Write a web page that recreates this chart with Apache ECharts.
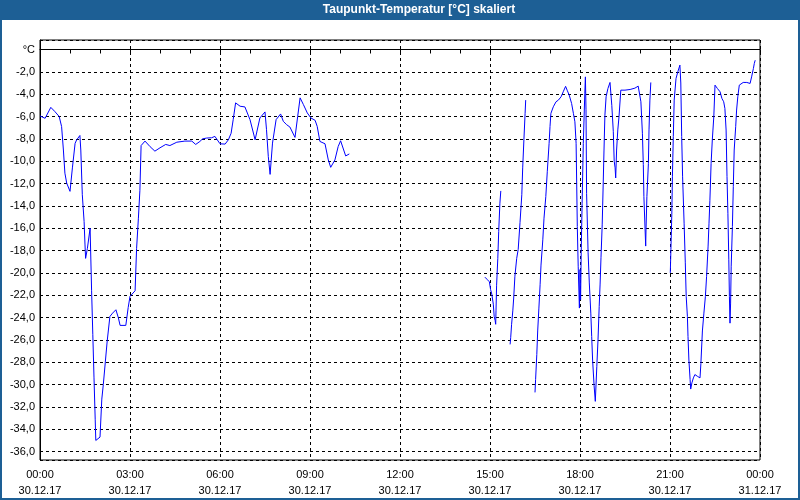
<!DOCTYPE html>
<html>
<head>
<meta charset="utf-8">
<script src="https://cdn.jsdelivr.net/npm/echarts@6/dist/echarts.min.js"></script>
<style>html,body{margin:0;padding:0;background:#fff}#c{width:800px;height:500px}</style>
</head>
<body>
<div id="c"></div>
<script>
// Title and tick labels
const chartTitle = 'Taupunkt-Temperatur [°C] skaliert';
const xTickLabels = ['00:00\n30.12.17','03:00\n30.12.17','06:00\n30.12.17','09:00\n30.12.17','12:00\n30.12.17','15:00\n30.12.17','18:00\n30.12.17','21:00\n30.12.17','00:00\n31.12.17'];
const yUnitLabel = '°C';

// Time in hours since 30.12.17 00:00
const hours = [
 0.00,0.17,0.36,0.50,0.64,0.72,0.78,0.83,0.89,1.00,1.08,1.17,1.22,1.33,1.36,1.41,1.47,1.50,1.52,1.58,
 1.67,1.72,1.76,1.80,1.84,1.86,2.00,2.06,2.11,2.18,2.24,2.33,2.42,2.53,2.61,2.67,2.86,2.94,3.00,3.17,
 3.22,3.28,3.33,3.37,3.50,3.67,3.83,4.00,4.19,4.33,4.56,4.83,5.06,5.19,5.33,5.42,5.55,5.72,5.83,5.89,
 6.00,6.06,6.17,6.28,6.37,6.44,6.52,6.67,6.83,7.00,7.17,7.33,7.50,7.55,7.61,7.67,7.75,7.87,8.02,8.11,
 8.22,8.33,8.50,8.59,8.67,8.78,8.91,9.03,9.17,9.24,9.33,9.50,9.61,9.69,9.83,9.94,10.02,10.19,10.31,
 12.00,
 14.83,14.91,14.98,15.02,15.06,15.11,15.14,15.17,15.19,15.20,15.22,15.26,15.29,15.33,15.36,
 15.50,
 15.67,15.69,15.72,15.76,15.79,15.83,15.89,15.94,16.00,16.06,16.09,16.13,16.17,16.19,
 16.35,
 16.50,16.52,16.56,16.59,16.63,16.67,16.70,16.76,16.80,16.86,16.91,16.97,17.00,17.03,17.11,17.20,17.28,17.37,17.44,17.52,
 17.58,17.64,17.72,17.78,17.83,17.87,17.89,17.91,17.94,17.98,18.00,18.02,18.04,18.07,18.11,18.16,18.18,18.20,18.22,18.27,
 18.31,18.36,18.39,18.42,18.47,18.51,18.56,18.60,18.64,18.67,18.70,18.74,18.77,18.80,18.83,18.87,18.93,19.00,19.06,19.11,
 19.14,19.17,19.19,19.22,19.26,19.30,19.36,19.50,19.67,19.83,19.94,20.00,20.03,20.08,20.11,20.13,20.17,20.19,20.20,20.23,
 20.28,20.30,20.33,20.36,
 20.70,
 21.01,21.03,21.06,21.08,21.11,21.14,21.20,21.26,21.33,21.36,21.39,21.42,21.47,21.51,21.54,21.58,21.60,21.63,21.67,21.69,
 21.73,21.78,21.83,21.91,22.00,22.03,22.08,22.13,22.18,22.22,22.27,22.30,22.33,22.37,22.41,22.46,22.50,22.58,22.67,22.73,
 22.79,22.83,22.87,22.90,22.93,22.96,22.98,23.00,23.02,23.04,23.08,23.11,23.14,23.19,23.22,23.26,23.31,23.36,23.44,23.56,
 23.67,23.72,23.78,23.81,23.84
];

// Dew point temperature in °C (null = no data)
const dewPoint = [
 -5.95,-6.16,-5.18,-5.57,-6.00,-6.90,-9.00,-11.07,-11.96,-12.70,-10.60,-8.40,-8.10,-7.70,-9.00,-13.00,-15.40,-17.50,-18.70,-17.80,
 -16.00,-21.60,-25.50,-29.40,-33.10,-35.00,-34.70,-31.30,-30.00,-27.90,-26.10,-23.90,-23.60,-23.30,-24.00,-24.70,-24.70,-23.10,-22.10,-21.60,
 -17.80,-15.10,-12.60,-8.60,-8.20,-8.70,-9.10,-8.80,-8.50,-8.60,-8.30,-8.20,-8.20,-8.50,-8.23,-8.00,-7.93,-7.90,-7.78,-7.87,
 -8.44,-8.50,-8.47,-8.08,-7.50,-6.28,-4.78,-5.08,-5.14,-6.28,-8.08,-6.13,-5.59,-7.18,-9.59,-11.18,-8.38,-6.28,-5.77,-6.43,
 -6.73,-6.94,-7.87,-5.98,-4.33,-4.93,-5.68,-6.13,-6.34,-6.88,-8.23,-8.44,-9.89,-10.55,-9.89,-8.68,-8.17,-9.53,-9.35,
 null,
 -20.38,-20.60,-20.80,-21.50,-21.90,-22.80,-23.90,-24.25,-24.60,-23.40,-21.10,-18.70,-16.30,-13.76,-12.66,
 null,
 -26.40,-25.80,-24.60,-23.40,-22.25,-20.30,-18.70,-17.90,-15.50,-13.00,-10.60,-8.10,-5.72,-4.53,
 null,
 -30.70,-29.55,-27.30,-25.20,-23.15,-21.06,-19.30,-17.04,-15.10,-13.17,-10.90,-8.40,-6.90,-5.72,-5.13,-4.68,-4.53,-4.23,-3.79,-3.30,
 -3.70,-4.08,-4.83,-5.72,-6.47,-8.40,-12.00,-15.85,-19.40,-23.15,-19.70,-22.40,-18.20,-13.80,-8.40,-3.93,-2.45,-5.40,-12.90,-18.20,
 -20.90,-23.60,-25.70,-27.80,-30.10,-31.50,-28.40,-26.00,-23.00,-21.00,-18.60,-15.70,-12.40,-9.00,-5.90,-4.23,-3.50,-2.95,-5.00,-7.36,
 -10.00,-10.60,-11.50,-9.00,-7.20,-6.02,-3.64,-3.64,-3.58,-3.46,-3.28,-3.19,-4.68,-7.50,-10.30,-13.17,-16.15,-17.60,-16.15,-13.17,
 -10.20,-7.20,-4.53,-2.95,
 null,
 -20.00,-17.90,-14.80,-11.40,-7.80,-4.53,-2.60,-2.00,-1.40,-3.00,-7.80,-11.40,-15.55,-19.10,-22.10,-23.90,-25.70,-27.80,-29.55,-30.40,
 -29.85,-29.40,-29.10,-29.25,-29.40,-28.10,-25.20,-23.60,-22.10,-20.30,-17.60,-15.55,-13.50,-10.20,-8.10,-6.02,-3.19,-3.49,-3.79,-4.38,
 -4.68,-5.28,-7.21,-11.38,-14.66,-18.83,-22.10,-24.50,-22.70,-19.40,-15.85,-12.28,-9.00,-6.91,-5.42,-4.23,-3.19,-3.04,-2.95,-2.95,
 -3.04,-2.45,-1.70,-1.25,-0.96
];

const seriesData = hours.map((h, i) => [h, dewPoint[i] === null ? '-' : dewPoint[i]]);

const chart = echarts.init(document.getElementById('c'), null, {renderer: 'canvas'});
const FONT = '"Liberation Sans", Arial, sans-serif';
const BLUE = '#1d5f95';

chart.setOption({
  animation: false,
  backgroundColor: '#ffffff',
  textStyle: {fontFamily: FONT},
  graphic: [
    {type: 'rect', z: 100, shape: {x: 0, y: 0, width: 800, height: 20}, style: {fill: BLUE}},
    {type: 'rect', z: 100, shape: {x: 1, y: 1, width: 798, height: 498}, style: {fill: null, stroke: BLUE, lineWidth: 2}},
    {type: 'text', z: 101, x: 419, y: 10, style: {text: chartTitle, fill: '#ffffff', font: 'bold 12px ' + FONT, textAlign: 'center', textVerticalAlign: 'middle'}}
  ],
  grid: {left: 40, right: 40, top: 40, bottom: 40, show: true, borderColor: '#000', borderWidth: 1, backgroundColor: 'transparent'},
  xAxis: {
    type: 'value', min: 0, max: 24, interval: 3,
    axisLine: {show: true, lineStyle: {color: '#000', width: 1}},
    axisTick: {show: true, length: 4, lineStyle: {color: '#000'}},
    minorTick: {show: true, splitNumber: 3, length: 4, lineStyle: {color: '#000'}},
    splitLine: {show: true, lineStyle: {color: '#000', type: [3, 3], width: 1}},
    axisLabel: {
      color: '#000', fontSize: 11, fontFamily: FONT, lineHeight: 16, margin: 7,
      formatter: v => xTickLabels[Math.round(v / 3)] || ''
    }
  },
  yAxis: {
    type: 'value', min: -36.75, max: 0.85, splitNumber: 18, minInterval: 2, maxInterval: 2,
    axisLine: {show: true, lineStyle: {color: '#000', width: 1}},
    axisTick: {show: false},
    splitLine: {show: true, lineStyle: {color: '#000', type: [3, 3], width: 1}},
    axisLabel: {
      color: '#000', fontSize: 11, fontFamily: FONT, margin: 5,
      showMinLabel: true, showMaxLabel: true,
      formatter: v => {
        if (Math.abs(v % 2) > 1e-6) return '';
        if (Math.abs(v) < 1e-6) return yUnitLabel;
        return v.toFixed(1).replace('.', ',');
      }
    }
  },
  series: [{
    type: 'line', data: seriesData, showSymbol: false, symbol: 'none',
    connectNulls: false, clip: true,
    lineStyle: {color: '#0000ff', width: 1}
  }]
});
</script>
</body>
</html>
